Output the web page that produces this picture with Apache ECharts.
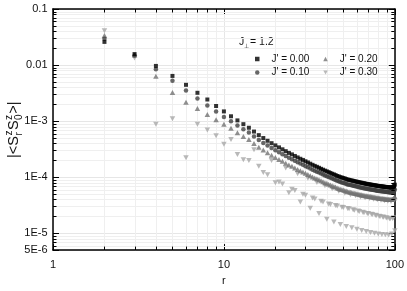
<!DOCTYPE html>
<html><head><meta charset="utf-8">
<script src="https://cdn.jsdelivr.net/npm/echarts@6/dist/echarts.min.js"></script>
<style>html,body{margin:0;padding:0;background:#fff}#c{width:407px;height:291px}</style>
</head><body><div id="c"></div>
<script>
// distance r
const r = [2,3,4,5,6,7,8,9,10,11,12,13,14,15,16,17,18,19,20,21,22,23,24,25,26,27,28,29,30,31,32,33,34,35,36,37,38,39,40,41,42,43,44,45,46,47,48,49,50,51,52,53,54,55,56,57,58,59,60,61,62,63,64,65,66,67,68,69,70,71,72,73,74,75,76,77,78,79,80,81,82,83,84,85,86,87,88,89,90,91,92,93,94,95,96,97,98,99,100];

// |<S^z_r S^z_0>| for J' = 0.00
const j000 = [
2.59e-2,1.57e-2,9.65e-3,6.40e-3,4.44e-3,3.20e-3,2.43e-3,1.86e-3,1.49e-3,
1.22e-3,1.03e-3,8.82e-4,7.62e-4,6.51e-4,5.62e-4,4.99e-4,4.46e-4,4.04e-4,3.69e-4,
3.40e-4,3.14e-4,2.91e-4,2.71e-4,2.55e-4,2.39e-4,2.25e-4,2.13e-4,2.03e-4,1.92e-4,
1.83e-4,1.74e-4,1.66e-4,1.59e-4,1.53e-4,1.47e-4,1.41e-4,1.36e-4,1.31e-4,1.27e-4,
1.23e-4,1.19e-4,1.15e-4,1.12e-4,1.09e-4,1.05e-4,1.03e-4,1.00e-4,9.84e-5,9.65e-5,
9.46e-5,9.24e-5,9.06e-5,8.94e-5,8.82e-5,8.71e-5,8.59e-5,8.48e-5,8.38e-5,8.28e-5,
8.18e-5,8.08e-5,8.00e-5,7.93e-5,7.83e-5,7.77e-5,7.68e-5,7.62e-5,7.54e-5,7.47e-5,
7.43e-5,7.37e-5,7.32e-5,7.27e-5,7.21e-5,7.17e-5,7.11e-5,7.07e-5,7.01e-5,6.97e-5,
6.93e-5,6.90e-5,6.86e-5,6.82e-5,6.80e-5,6.77e-5,6.74e-5,6.70e-5,6.68e-5,6.64e-5,
6.61e-5,6.59e-5,6.58e-5,6.56e-5,6.53e-5,6.53e-5,6.59e-5,6.72e-5,6.93e-5,7.35e-5];

// J' = 0.10
const j010 = [
2.94e-2,1.48e-2,8.44e-3,5.26e-3,3.50e-3,2.53e-3,1.89e-3,1.49e-3,1.19e-3,
9.92e-4,8.37e-4,7.15e-4,6.25e-4,5.34e-4,4.61e-4,4.09e-4,3.66e-4,3.31e-4,3.03e-4,
2.79e-4,2.57e-4,2.39e-4,2.22e-4,2.09e-4,1.96e-4,1.85e-4,1.75e-4,1.66e-4,1.57e-4,
1.50e-4,1.43e-4,1.36e-4,1.30e-4,1.25e-4,1.21e-4,1.16e-4,1.12e-4,1.07e-4,1.04e-4,
1.01e-4,9.76e-5,9.43e-5,9.18e-5,8.94e-5,8.61e-5,8.45e-5,8.20e-5,8.07e-5,7.91e-5,
7.76e-5,7.58e-5,7.43e-5,7.33e-5,7.23e-5,7.14e-5,7.04e-5,6.95e-5,6.87e-5,6.79e-5,
6.71e-5,6.63e-5,6.56e-5,6.50e-5,6.42e-5,6.37e-5,6.30e-5,6.25e-5,6.18e-5,6.13e-5,
6.09e-5,6.04e-5,6.00e-5,5.96e-5,5.91e-5,5.88e-5,5.83e-5,5.80e-5,5.75e-5,5.72e-5,
5.68e-5,5.66e-5,5.63e-5,5.59e-5,5.58e-5,5.55e-5,5.53e-5,5.49e-5,5.48e-5,5.44e-5,
5.42e-5,5.40e-5,5.40e-5,5.38e-5,5.35e-5,5.35e-5,5.40e-5,5.51e-5,5.68e-5,6.03e-5];

// J' = 0.20
const j020 = [
3.36e-2,1.51e-2,6.33e-3,3.24e-3,2.18e-3,1.68e-3,1.31e-3,1.06e-3,8.82e-4,
7.44e-4,6.18e-4,5.34e-4,4.69e-4,3.97e-4,3.43e-4,3.04e-4,2.72e-4,2.46e-4,2.25e-4,
2.07e-4,1.92e-4,1.78e-4,1.65e-4,1.56e-4,1.46e-4,1.37e-4,1.30e-4,1.24e-4,1.17e-4,
1.12e-4,1.06e-4,1.01e-4,9.70e-5,9.33e-5,8.97e-5,8.60e-5,8.30e-5,7.99e-5,7.75e-5,
7.50e-5,7.26e-5,7.02e-5,6.83e-5,6.65e-5,6.41e-5,6.28e-5,6.10e-5,6.00e-5,5.89e-5,
5.77e-5,5.64e-5,5.53e-5,5.45e-5,5.38e-5,5.31e-5,5.24e-5,5.17e-5,5.11e-5,5.05e-5,
4.99e-5,4.93e-5,4.88e-5,4.84e-5,4.78e-5,4.74e-5,4.68e-5,4.65e-5,4.60e-5,4.56e-5,
4.53e-5,4.50e-5,4.47e-5,4.43e-5,4.40e-5,4.37e-5,4.34e-5,4.31e-5,4.28e-5,4.25e-5,
4.23e-5,4.21e-5,4.18e-5,4.16e-5,4.15e-5,4.13e-5,4.11e-5,4.09e-5,4.07e-5,4.05e-5,
4.03e-5,4.02e-5,4.01e-5,4.00e-5,3.98e-5,3.98e-5,4.02e-5,4.10e-5,4.23e-5,4.48e-5];

// J' = 0.30
const j030 = [
4.09e-2,1.34e-2,8.82e-4,1.10e-3,2.22e-4,8.82e-4,6.96e-4,5.49e-4,3.85e-4,
4.69e-4,2.53e-4,2.05e-4,1.99e-4,3.10e-4,1.57e-4,1.21e-4,1.10e-4,1.99e-4,7.96e-5,
8.21e-5,7.55e-5,1.46e-4,5.26e-5,6.11e-5,5.76e-5,1.15e-4,3.61e-5,4.98e-5,4.77e-5,
9.54e-5,2.80e-5,4.23e-5,4.07e-5,8.05e-5,2.25e-5,3.70e-5,3.60e-5,7.01e-5,1.78e-5,
3.33e-5,3.27e-5,6.21e-5,1.58e-5,3.11e-5,3.06e-5,5.58e-5,1.43e-5,2.92e-5,2.88e-5,
5.18e-5,1.32e-5,2.75e-5,2.72e-5,4.86e-5,1.25e-5,2.61e-5,2.58e-5,4.64e-5,1.18e-5,
2.48e-5,2.45e-5,4.45e-5,1.12e-5,2.36e-5,2.33e-5,4.28e-5,1.07e-5,2.26e-5,2.24e-5,
4.16e-5,1.03e-5,2.17e-5,2.15e-5,4.05e-5,1.00e-5,2.09e-5,2.07e-5,3.96e-5,9.73e-6,
2.01e-5,1.99e-5,3.88e-5,9.50e-6,1.94e-5,1.93e-5,3.81e-5,9.35e-6,1.88e-5,1.86e-5,
3.73e-5,9.28e-6,1.82e-5,1.81e-5,3.69e-5,9.65e-6,1.84e-5,1.89e-5,3.91e-5,1.11e-5];

const seriesNames = ["J' = 0.00", "J' = 0.10", "J' = 0.20", "J' = 0.30"];
const xTickValues = [1, 10, 100];
const xTickLabels = ['1', '10', '100'];
const yTickValues = [5e-6, 1e-5, 1e-4, 1e-3, 1e-2, 1e-1];
const yTickLabels = ['5E-6', '1E-5', '1E-4', '1E-3', '0.01', '0.1'];

const X_MIN = 1, X_MAX = 100, Y_MIN = 5e-6, Y_MAX = 0.1;
const FONT = "'Liberation Sans', Arial, Helvetica, sans-serif";
const DOWN = 'path://M0,0L10,0L5,8.66Z';

function lookup(vals, labels, v) {
  for (let i = 0; i < vals.length; i++) {
    if (Math.abs(Math.log10(v) - Math.log10(vals[i])) < 1e-6) return labels[i];
  }
  return '';
}

// minor tick positions (decoration)
const minor = [];
[1, 10].forEach(d => { for (let k = 2; k <= 9; k++) minor.push([k * d, 1e-3, 0]); });
[1e-6, 1e-5, 1e-4, 1e-3, 1e-2].forEach(d => {
  for (let k = 2; k <= 9; k++) { const v = k * d; if (v > Y_MIN * 1.01 && v < Y_MAX * 0.99) minor.push([10, v, 1]); }
});
const snap = v => Math.round(v) + 0.5;

function minorGrid(params, api) {
  const kind = api.value(2);
  if (kind === 0) {
    const v = api.value(0), b = api.coord([v, Y_MIN]), t = api.coord([v, Y_MAX]);
    const x = snap(b[0]);
    return {type: 'line', shape: {x1: x, y1: b[1], x2: x, y2: t[1]}, style: {stroke: '#efefef', lineWidth: 1}};
  }
  const v = api.value(1), l = api.coord([X_MIN, v]), rr = api.coord([X_MAX, v]);
  const y = snap(l[1]);
  return {type: 'line', shape: {x1: l[0], y1: y, x2: rr[0], y2: y}, style: {stroke: '#efefef', lineWidth: 1}};
}
function minorTicks(params, api) {
  const kind = api.value(2), L = 3.5;
  if (kind === 0) {
    const v = api.value(0), b = api.coord([v, Y_MIN]), t = api.coord([v, Y_MAX]);
    const x = snap(b[0]);
    return {type: 'group', children: [
      {type: 'line', shape: {x1: x, y1: b[1], x2: x, y2: b[1] - L}, style: {stroke: '#000', lineWidth: 1}},
      {type: 'line', shape: {x1: x, y1: t[1], x2: x, y2: t[1] + L}, style: {stroke: '#000', lineWidth: 1}}
    ]};
  }
  const v = api.value(1), l = api.coord([X_MIN, v]), rr = api.coord([X_MAX, v]);
  const y = snap(l[1]);
  return {type: 'group', children: [
    {type: 'line', shape: {x1: l[0], y1: y, x2: l[0] + L, y2: y}, style: {stroke: '#000', lineWidth: 1}},
    {type: 'line', shape: {x1: rr[0], y1: y, x2: rr[0] - L, y2: y}, style: {stroke: '#000', lineWidth: 1}}
  ]};
}

const axisLine = {show: true, lineStyle: {color: '#000', width: 1.5}};
const axisTick = {show: true, inside: true, length: 6, lineStyle: {color: '#000', width: 1}};
const txt = (text, x, y, size) => ({type: 'text', x, y, style: {text, font: size + 'px ' + FONT, fill: '#111',
  textAlign: 'left', textVerticalAlign: 'middle', align: 'left', verticalAlign: 'middle'}});

const chart = echarts.init(document.getElementById('c'), null, {renderer: 'canvas'});
chart.setOption({
  animation: false,
  backgroundColor: '#fff',
  grid: {left: 53, right: 10, top: 9, bottom: 31, containLabel: false},
  xAxis: [
    {type: 'log', logBase: 10, min: X_MIN, max: X_MAX, position: 'bottom',
     axisLine, axisTick,
     axisLabel: {fontSize: 11, fontFamily: FONT, color: '#111', margin: 9,
                 formatter: v => lookup(xTickValues, xTickLabels, v)},
     splitLine: {show: true, lineStyle: {color: '#e6e6e6', width: 1}},
     minorTick: {show: false}, minorSplitLine: {show: false},
     name: 'r', nameLocation: 'middle', nameGap: 22,
     nameTextStyle: {fontSize: 11, fontFamily: FONT, color: '#111'}},
    {type: 'log', logBase: 10, min: X_MIN, max: X_MAX, position: 'top',
     axisLine, axisTick, axisLabel: {show: false}, splitLine: {show: false}}
  ],
  yAxis: [
    {type: 'log', logBase: 10, min: Y_MIN, max: Y_MAX, position: 'left',
     axisLine, axisTick,
     axisLabel: {fontSize: 11, fontFamily: FONT, color: '#111', margin: 5.5,
                 formatter: v => lookup(yTickValues, yTickLabels, v)},
     splitLine: {show: true, lineStyle: {color: '#e6e6e6', width: 1}}},
    {type: 'log', logBase: 10, min: Y_MIN, max: Y_MAX, position: 'right',
     axisLine, axisTick, axisLabel: {show: false}, splitLine: {show: false}}
  ],
  legend: [
    {data: [{name: seriesNames[0], icon: 'rect'}, {name: seriesNames[2], icon: 'triangle'}],
     left: 250, top: 49, orient: 'horizontal', itemWidth: 4.5, itemHeight: 4.5, itemGap: 14,
     selectedMode: false,
     textStyle: {fontSize: 10, fontFamily: FONT, color: '#111', padding: [0, 0, 0, 7]}},
    {data: [{name: seriesNames[1], icon: 'circle'}, {name: seriesNames[3], icon: DOWN}],
     left: 250, top: 62.5, orient: 'horizontal', itemWidth: 4.5, itemHeight: 4.5, itemGap: 14,
     selectedMode: false,
     textStyle: {fontSize: 10, fontFamily: FONT, color: '#111', padding: [0, 0, 0, 7]}}
  ],
  graphic: [
    {type: 'group', x: 239, y: 42, silent: true, children: [
      txt('J', 0, 0, 10.5), txt('⊥', 5.2, 4, 6), txt('= 1.2', 11, 0, 10.5)
    ]},
    {type: 'group', x: 14, y: 158, rotation: Math.PI / 2, silent: true, children: [
      txt('|<S', 0, 0, 14.5),
      txt('z', 22.4, -5, 10), txt('r', 22.4, 5, 10),
      txt('S', 27.9, 0, 14.5),
      txt('z', 38.1, -5, 10), txt('0', 38.1, 5, 10),
      txt('>|', 44.2, 0, 14.5)
    ]}
  ],
  series: [
    {type: 'custom', name: 'minorGrid', renderItem: minorGrid, data: minor, encode: {x: 0, y: 1}, z: 1, silent: true},
    {type: 'scatter', name: seriesNames[3], data: r.map((x, i) => [x, j030[i]]),
     symbol: DOWN, symbolSize: [5.5, 5], itemStyle: {color: '#a8a8a8'}, z: 2, silent: true},
    {type: 'scatter', name: seriesNames[2], data: r.map((x, i) => [x, j020[i]]),
     symbol: 'triangle', symbolSize: [5.5, 5], itemStyle: {color: '#737373'}, z: 3, silent: true},
    {type: 'scatter', name: seriesNames[1], data: r.map((x, i) => [x, j010[i]]),
     symbol: 'circle', symbolSize: 4.5, itemStyle: {color: '#414141'}, z: 4, silent: true},
    {type: 'scatter', name: seriesNames[0], data: r.map((x, i) => [x, j000[i]]),
     symbol: 'rect', symbolSize: 4, itemStyle: {color: '#000'}, z: 5, silent: true},
    {type: 'custom', name: 'minorTicks', renderItem: minorTicks, data: minor, encode: {x: 0, y: 1}, z: 10, silent: true}
  ]
});
</script></body></html>
